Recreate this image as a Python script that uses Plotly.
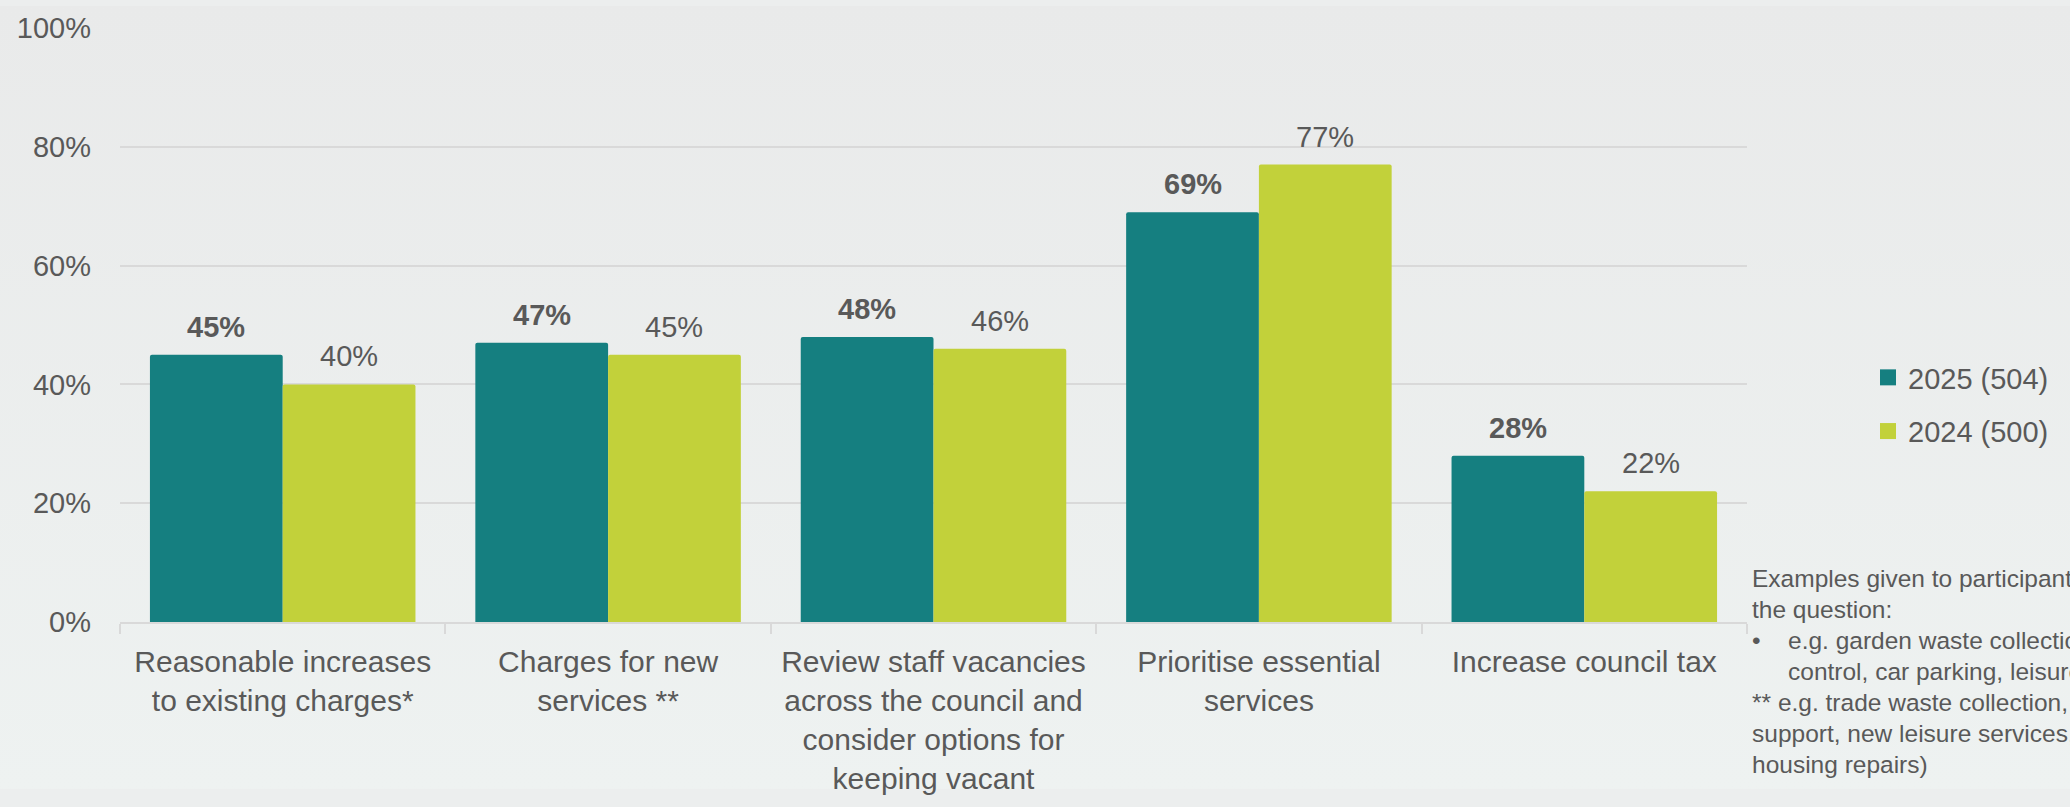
import base64
import plotly.graph_objects as go

# --- data -------------------------------------------------------------
categories = [
    "Reasonable increases<br>to existing charges*",
    "Charges for new<br>services **",
    "Review staff vacancies<br>across the council and<br>consider options for<br>keeping vacant",
    "Prioritise essential<br>services",
    "Increase council tax",
]
series_2025 = [45, 47, 48, 69, 28]
series_2024 = [40, 45, 46, 77, 22]
series_names = ["2025 (504)", "2024 (500)"]
y_ticks = [0, 20, 40, 60, 80, 100]
y_tick_labels = ["0%", "20%", "40%", "60%", "80%", "100%"]

footnote_lines = [
    ("", "Examples given to participants when answering"),
    ("", "the question:"),
    ("•", "e.g. garden waste collection, pest"),
    ("indent", "control, car parking, leisure centres)"),
    ("", "** e.g. trade waste collection, business"),
    ("", "support, new leisure services, private"),
    ("", "housing repairs)"),
]

# --- styling ----------------------------------------------------------
W, H = 2070, 807
ML, MR, MT, MB = 120, 323, 23, 172
PW, PH = W - ML - MR, H - MT - MB
TEAL = "#157F80"
LIME = "#C2D13A"
TEXT = "#595959"
GRID = "#D9D9D9"
FONT = "Liberation Sans, Arial, sans-serif"
BARGAP = 0.184

fig = go.Figure()

fig.add_trace(go.Bar(x=categories, y=series_2025, name=series_names[0],
                     marker=dict(color=TEAL, cornerradius=2, line=dict(width=0)),
                     showlegend=False, hoverinfo="skip"))
fig.add_trace(go.Bar(x=categories, y=series_2024, name=series_names[1],
                     marker=dict(color=LIME, cornerradius=2, line=dict(width=0)),
                     showlegend=False, hoverinfo="skip"))

# legend entries with larger square swatches
for name, col in zip(series_names, [TEAL, LIME]):
    fig.add_trace(go.Scatter(x=[None], y=[None], mode="markers", name=name,
                             legendgroup=name,
                             marker=dict(symbol="square", size=16, color=col)))

# value labels above the bars
cat_px = PW / len(categories)
half_bar = cat_px * (1 - BARGAP) / 4
annotations = []
for cat, a, b in zip(categories, series_2025, series_2024):
    annotations.append(dict(x=cat, y=a, xref="x", yref="y", text=f"<b>{a}%</b>",
                            showarrow=False, xshift=-half_bar, yshift=28,
                            yanchor="middle", font=dict(size=29, color=TEXT)))
    annotations.append(dict(x=cat, y=b, xref="x", yref="y", text=f"{b}%",
                            showarrow=False, xshift=half_bar, yshift=28,
                            yanchor="middle", font=dict(size=29, color=TEXT)))

# footnote block on the right
note_x = (1750 - ML) / PW
note_indent = (1786 - ML) / PW
for i, (kind, line) in enumerate(footnote_lines):
    yc = 590 + i * 32
    ypaper = (MT + PH - yc) / PH
    if kind == "•":
        annotations.append(dict(x=note_x, y=ypaper, xref="paper", yref="paper",
                                text="•", showarrow=False, xanchor="left",
                                yanchor="middle", font=dict(size=24.5, color=TEXT)))
        x0 = note_indent
    elif kind == "indent":
        x0 = note_indent
    else:
        x0 = note_x
    annotations.append(dict(x=x0, y=ypaper, xref="paper", yref="paper",
                            text=line, showarrow=False, xanchor="left",
                            yanchor="middle", font=dict(size=24.5, color=TEXT)))

# soft vertical background gradient
svg = (f'<svg xmlns="http://www.w3.org/2000/svg" width="{W}" height="{H}">'
       '<defs><linearGradient id="g" x1="0" y1="0" x2="0" y2="1">'
       '<stop offset="0" stop-color="#E9EAEA"/>'
       '<stop offset="1" stop-color="#EEF2F1"/>'
       '</linearGradient></defs>'
       '<rect width="100%" height="100%" fill="url(#g)"/></svg>')
bg_src = "data:image/svg+xml;base64," + base64.b64encode(svg.encode()).decode()

fig.update_layout(
    width=W, height=H,
    margin=dict(l=ML, r=MR, t=MT, b=MB, pad=0),
    paper_bgcolor="#ECEEEE",
    plot_bgcolor="rgba(0,0,0,0)",
    barmode="group", bargap=BARGAP, bargroupgap=0,
    font=dict(family=FONT, color=TEXT),
    images=[dict(source=bg_src, xref="paper", yref="paper",
                 x=-ML / PW, y=1 + MT / PH, sizex=W / PW, sizey=H / PH,
                 xanchor="left", yanchor="top", sizing="stretch", layer="below")],
    annotations=annotations,
    legend=dict(xref="container", yref="container",
                x=1868 / W, y=1 - 352 / H, xanchor="left", yanchor="top",
                font=dict(size=29, color=TEXT), bgcolor="rgba(0,0,0,0)",
                itemsizing="trace", traceorder="grouped", tracegroupgap=13),
    xaxis=dict(showline=True, linecolor=GRID, linewidth=2,
               ticks="outside", tickson="boundaries", ticklen=10,
               tickcolor=GRID, tickwidth=2, ticklabelstandoff=12,
               tickfont=dict(size=30, color=TEXT), showgrid=False),
    yaxis=dict(range=[0, 100], tickmode="array", tickvals=y_ticks,
               ticktext=y_tick_labels,
               showgrid=True, gridcolor=GRID, gridwidth=2, zeroline=False,
               showline=False, ticks="", ticklabelstandoff=28,
               tickfont=dict(size=29, color=TEXT)),
    showlegend=True,
)

fig.write_html("out.html")
